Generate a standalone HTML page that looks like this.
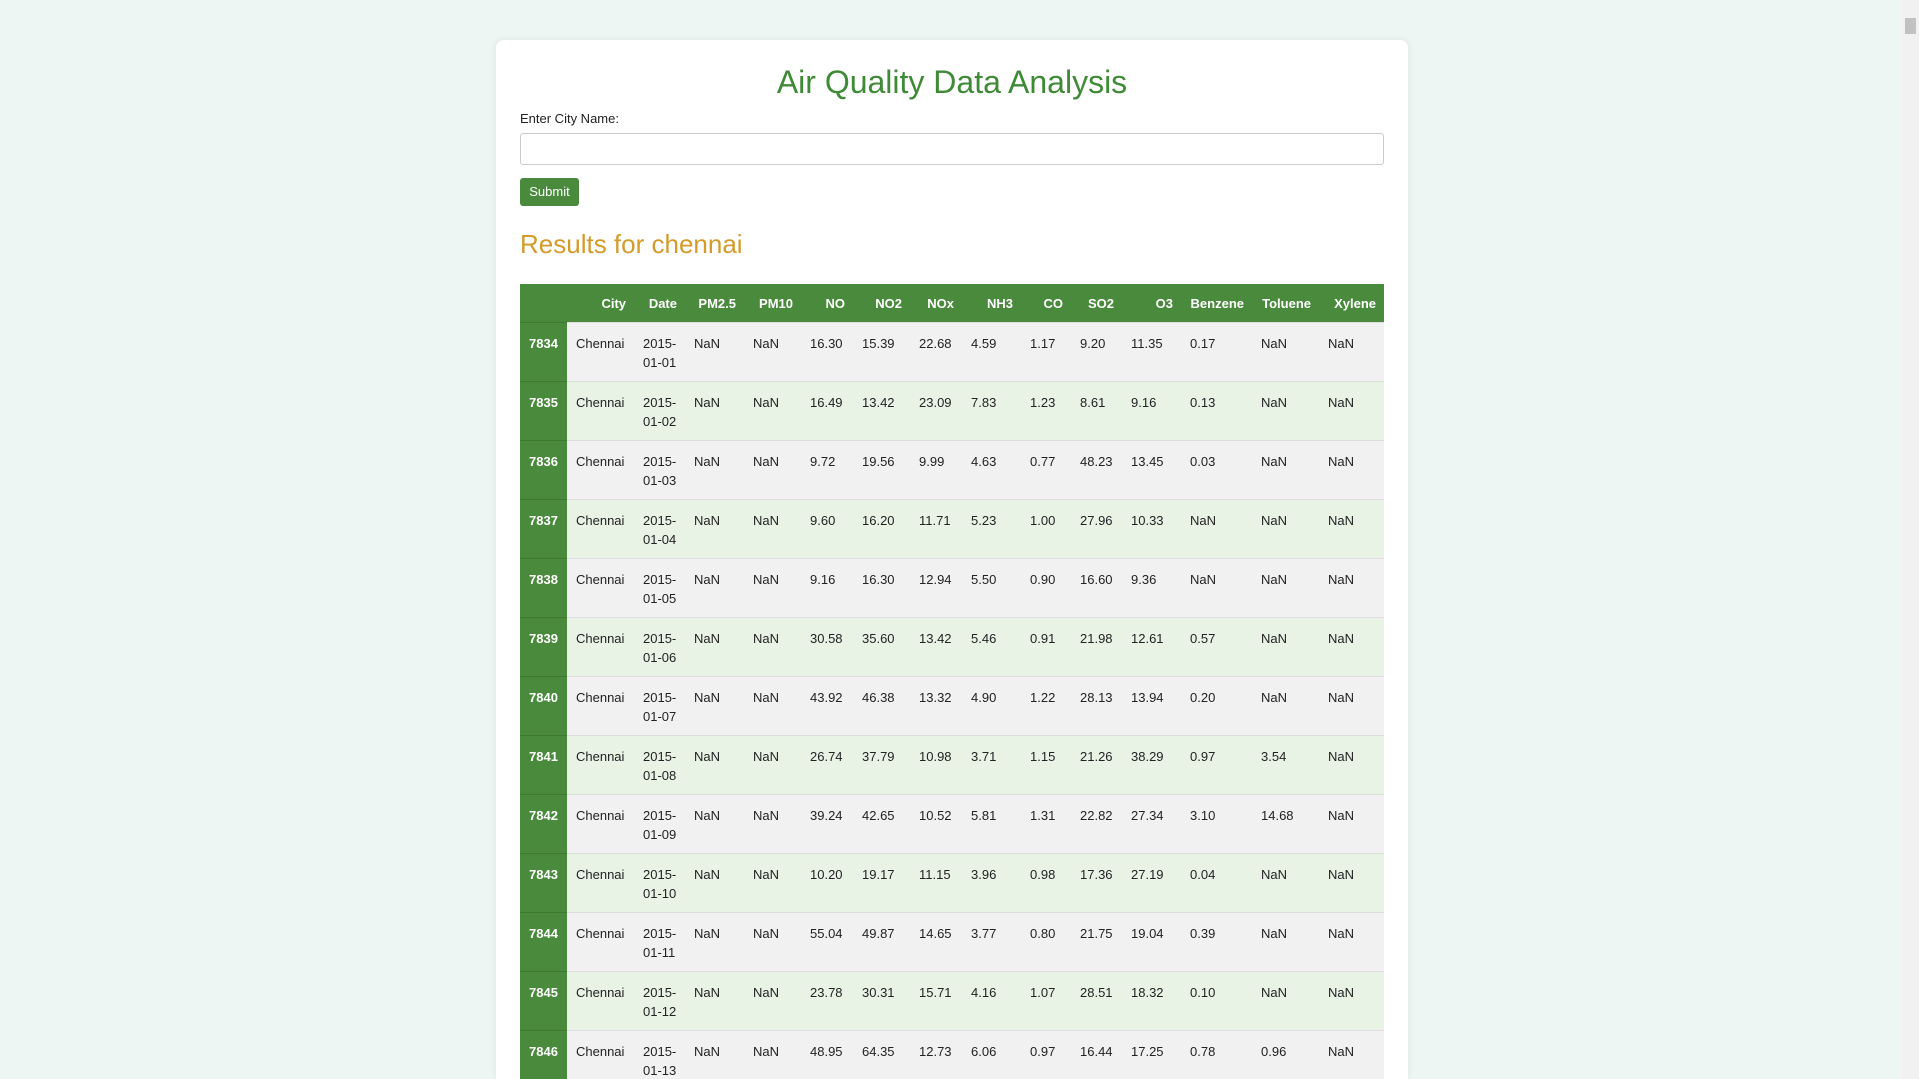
<!DOCTYPE html>
<html><head><meta charset="utf-8"><style>
html,body{margin:0;padding:0;width:1919px;height:1079px;overflow:hidden;}
body{background:#eef6f4;font-family:"Liberation Sans",Arial,sans-serif;}
.wrap{position:relative;width:1919px;height:1079px;overflow:hidden;}
.card{position:absolute;left:496px;top:40px;width:912px;height:1039px;background:#fff;border-radius:8px 8px 0 0;box-shadow:0 0 8px rgba(0,0,0,0.08);}
h1{position:absolute;top:64px;margin:0;text-align:center;color:#3f8a36;font-weight:normal;font-size:32px;}
.lbl{position:absolute;left:520px;top:111px;font-size:13px;color:#222;}
.inp{position:absolute;left:520px;top:133px;width:862px;height:30px;border:1px solid #ccc;border-radius:3px;background:#fff;}
.btn{position:absolute;left:520px;top:178px;width:59px;height:28px;background:#4a8a3c;color:#fff;font-size:13px;border-radius:3px;text-align:center;line-height:28px;}
h2{position:absolute;left:520px;top:229px;margin:0;font-size:26px;font-weight:normal;color:#d49a2a;}
.tclip{position:absolute;left:520px;top:284px;width:864px;height:795px;overflow:hidden;}
table{width:864px;border-collapse:collapse;table-layout:fixed;font-size:13px;}
th{background:#4a8a3c;color:#fff;height:38px;text-align:right;padding:0 8px 0 0;font-weight:bold;}
td{vertical-align:top;padding:11px 4px 0 9px;height:47px;line-height:19px;color:#222;border-top:1px solid #ddd;}
tr:nth-child(odd) td{background:#f1f1f1;}
tr:nth-child(even) td{background:#e8f3e6;}
td.idx{background:#4a8a3c !important;color:#fff;font-weight:bold;border-top:1px solid #3f7a33;}
.sb{position:absolute;right:0;top:0;width:17px;height:1079px;background:#f1f1f1;}
.thumb{position:absolute;right:3px;top:18px;width:11px;height:16px;background:#c1c1c1;}
</style></head><body>
<div class="wrap">
<div class="card"></div>
<h1 style="left:496px;width:912px;">Air Quality Data Analysis</h1>
<div class="lbl">Enter City Name:</div>
<div class="inp"></div>
<div class="btn">Submit</div>
<h2>Results for chennai</h2>
<div class="tclip">
<table>
<colgroup><col style="width:47px"><col style="width:67px"><col style="width:51px"><col style="width:59px"><col style="width:57px"><col style="width:52px"><col style="width:57px"><col style="width:52px"><col style="width:59px"><col style="width:50px"><col style="width:51px"><col style="width:59px"><col style="width:71px"><col style="width:67px"><col style="width:65px"></colgroup>
<thead><tr><th></th><th>City</th><th>Date</th><th>PM2.5</th><th>PM10</th><th>NO</th><th>NO2</th><th>NOx</th><th>NH3</th><th>CO</th><th>SO2</th><th>O3</th><th>Benzene</th><th>Toluene</th><th>Xylene</th></tr></thead>
<tbody id="tb"></tbody></table>
</div>
<div class="sb"><div class="thumb"></div></div>
</div>
<script>
const ids=[7834,7835,7836,7837,7838,7839,7840,7841,7842,7843,7844,7845,7846];
const dates=["2015-01-01","2015-01-02","2015-01-03","2015-01-04","2015-01-05","2015-01-06","2015-01-07","2015-01-08","2015-01-09","2015-01-10","2015-01-11","2015-01-12","2015-01-13"];
const no=["16.30","16.49","9.72","9.60","9.16","30.58","43.92","26.74","39.24","10.20","55.04","23.78","48.95"];
const no2=["15.39","13.42","19.56","16.20","16.30","35.60","46.38","37.79","42.65","19.17","49.87","30.31","64.35"];
const nox=["22.68","23.09","9.99","11.71","12.94","13.42","13.32","10.98","10.52","11.15","14.65","15.71","12.73"];
const nh3=["4.59","7.83","4.63","5.23","5.50","5.46","4.90","3.71","5.81","3.96","3.77","4.16","6.06"];
const co=["1.17","1.23","0.77","1.00","0.90","0.91","1.22","1.15","1.31","0.98","0.80","1.07","0.97"];
const so2=["9.20","8.61","48.23","27.96","16.60","21.98","28.13","21.26","22.82","17.36","21.75","28.51","16.44"];
const o3=["11.35","9.16","13.45","10.33","9.36","12.61","13.94","38.29","27.34","27.19","19.04","18.32","17.25"];
const benzene=["0.17","0.13","0.03","NaN","NaN","0.57","0.20","0.97","3.10","0.04","0.39","0.10","0.78"];
const toluene=["NaN","NaN","NaN","NaN","NaN","NaN","NaN","3.54","14.68","NaN","NaN","NaN","0.96"];
const tb=document.getElementById('tb');
ids.forEach((id,i)=>{
 const tr=document.createElement('tr');
 
 
 const d=dates[i].split('-');
 const cells=[id,'Chennai',d[0]+'-<br>'+d[1]+'-'+d[2],'NaN','NaN',no[i],no2[i],nox[i],nh3[i],co[i],so2[i],o3[i],benzene[i],toluene[i],'NaN'];
 tr.innerHTML=cells.map((c,j)=>'<td'+(j==0?' class="idx"':'')+'>'+c+'</td>').join('');
 tb.appendChild(tr);
});
</script>
</body></html>
